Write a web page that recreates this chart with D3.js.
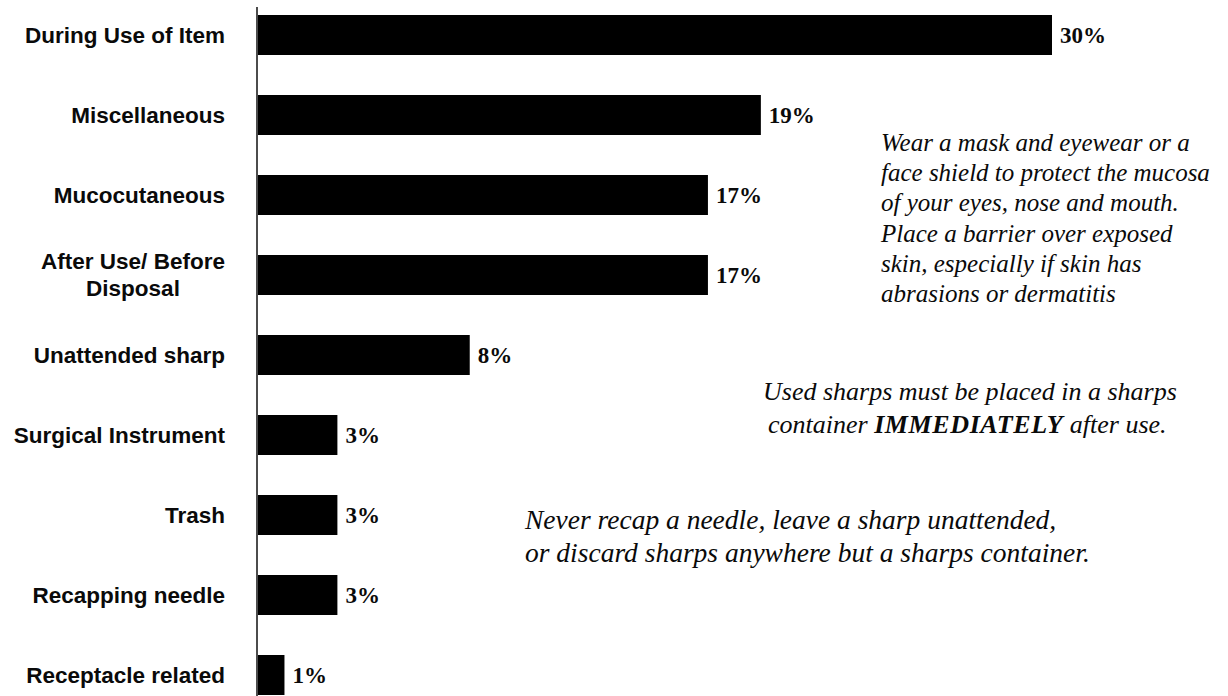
<!DOCTYPE html>
<html>
<head>
<meta charset="utf-8">
<script src="https://cdn.jsdelivr.net/npm/d3@7"></script>
<style>
  body { margin: 0; background: #fff; }
  .cat { font-family: "Liberation Sans", Arial, sans-serif; font-weight: bold; font-size: 22.5px; fill: #0a0a0a; }
  .val { font-family: "Liberation Serif", "Times New Roman", serif; font-weight: bold; font-size: 23px; fill: #0a0a0a; }
  .note { font-family: "Liberation Serif", "Times New Roman", serif; font-style: italic; fill: #0a0a0a; }
</style>
</head>
<body>
<div class="chart"></div>
<script>
const categories = ["During Use of Item", "Miscellaneous", "Mucocutaneous", "After Use/ Before\nDisposal",
    "Unattended sharp", "Surgical Instrument", "Trash", "Recapping needle", "Receptacle related"];
const values = [30, 19, 17, 17, 8, 3, 3, 3, 1];

const noteMask = ["Wear a mask and eyewear or a", "face shield to protect the mucosa",
    "of your eyes, nose and mouth.", "Place a barrier over exposed",
    "skin, especially if skin has", "abrasions or dermatitis"];
const noteUsed = [["Used sharps must be placed in a sharps"], ["container ", "IMMEDIATELY", " after use."]];
const noteNever = ["Never recap a needle, leave a sharp unattended,",
    "or discard sharps anywhere but a sharps container."];

const width = 1228, height = 696;
const axisX = 257;

const svg = d3.select('.chart')
    .append('svg')
    .attr('width', width)
    .attr('height', height);

const xScale = d3.scaleLinear()
    .domain([0, 30])
    .range([axisX + 1, 1052]);

const yScale = d3.scaleBand()
    .domain(categories)
    .range([-5, 715])
    .paddingInner(0.5)
    .paddingOuter(0.25);

// bars
svg.selectAll('rect.bar')
    .data(values)
    .enter()
    .append('rect')
    .attr('class', 'bar')
    .attr('x', xScale(0))
    .attr('y', (d, i) => yScale(categories[i]))
    .attr('width', d => xScale(d) - xScale(0))
    .attr('height', yScale.bandwidth())
    .attr('fill', '#000');

// value labels
svg.selectAll('text.val')
    .data(values)
    .enter()
    .append('text')
    .attr('class', 'val')
    .attr('x', d => xScale(d) + 8)
    .attr('y', (d, i) => yScale(categories[i]) + yScale.bandwidth() / 2 + 8)
    .text(d => d + '%');

// category axis
const yAxis = d3.axisLeft(yScale).tickSize(0).tickPadding(32);
const gAxis = svg.append('g')
    .attr('transform', `translate(${axisX},0)`)
    .call(yAxis);
gAxis.select('.domain').remove();
gAxis.selectAll('.tick text')
    .attr('class', 'cat')
    .attr('font-size', null)
    .attr('font-family', null)
    .attr('dy', null)
    .each(function(d) {
        const lines = d.split('\n');
        const t = d3.select(this).text(null);
        if (lines.length === 1) {
            t.attr('y', 7.5).text(d);
        } else {
            // centered two-line label
            t.attr('text-anchor', 'middle');
            lines.forEach((ln, k) => {
                t.append('tspan')
                    .attr('x', -32 - 92)
                    .attr('y', -6 + k * 27)
                    .text(ln);
            });
        }
    });

svg.append('line')
    .attr('x1', axisX).attr('x2', axisX)
    .attr('y1', 7).attr('y2', height)
    .attr('stroke', '#111')
    .attr('stroke-width', 1.5);

// annotations
svg.append('g').selectAll('text')
    .data(noteMask)
    .enter()
    .append('text')
    .attr('class', 'note')
    .attr('font-size', 25)
    .attr('x', 881)
    .attr('y', (d, i) => 151 + i * 30.2)
    .text(d => d);

svg.append('g').selectAll('text')
    .data(noteUsed)
    .enter()
    .append('text')
    .attr('class', 'note')
    .attr('font-size', 26)
    .attr('x', (d, i) => i === 0 ? 763 : 768)
    .attr('y', (d, i) => 400 + i * 33)
    .each(function(parts) {
        const t = d3.select(this);
        parts.forEach(p => {
            t.append('tspan')
                .attr('font-weight', p === 'IMMEDIATELY' ? 'bold' : null)
                .attr('letter-spacing', p === 'IMMEDIATELY' ? 0.6 : null)
                .text(p);
        });
    });

svg.append('g').selectAll('text')
    .data(noteNever)
    .enter()
    .append('text')
    .attr('class', 'note')
    .attr('font-size', 27.5)
    .attr('x', 525)
    .attr('y', (d, i) => 529 + i * 33)
    .text(d => d);
</script>
</body>
</html>
